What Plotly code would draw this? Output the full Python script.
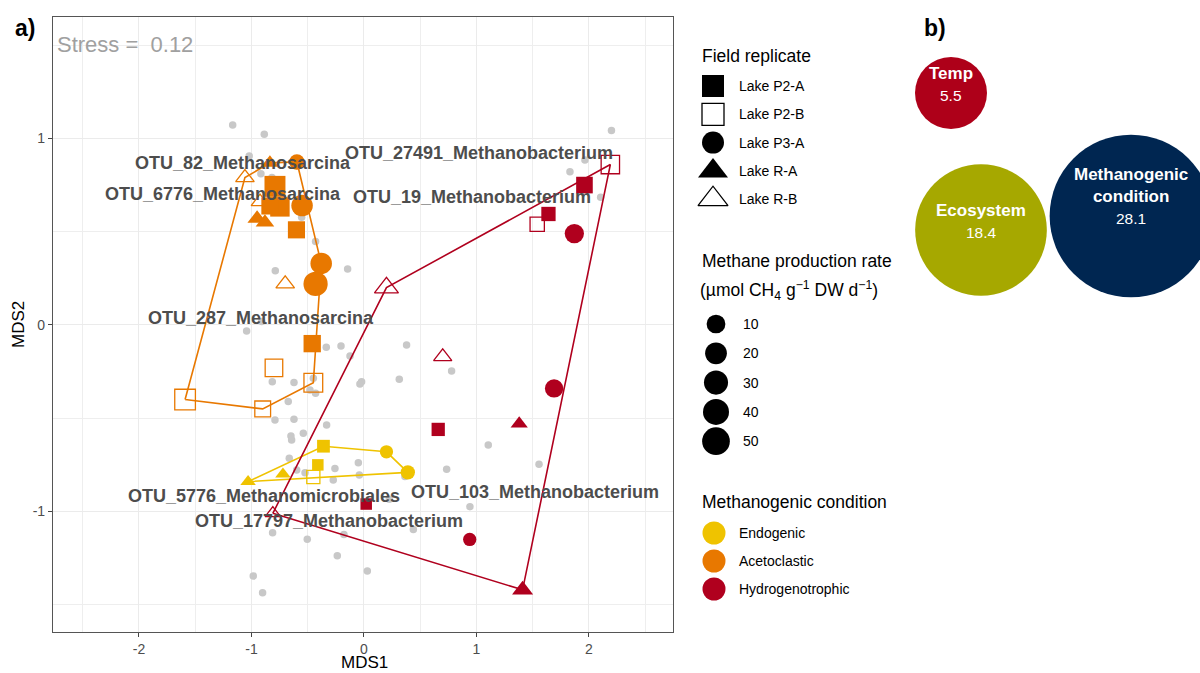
import numpy as np
import plotly.graph_objects as go

# ---------------- DATA ----------------
# background OTU scores (grey dots)
otu_mds1 = [-1.167, -0.886, -1.02, -0.916, -0.818, -0.554, -0.43, -0.788, -0.145, -1.043, -0.909,
            -0.335, -0.204, 2.20, 1.964, 1.831, 2.104, 0.379, -0.124, -0.815, -0.622, -0.021,
            -0.036, 0.314, 0.779, -0.43, -0.48, -0.45, -0.673, -0.791, -0.622, -0.332, -0.539,
            -0.649, -0.643, 1.105, -0.664, -0.598, -0.524, -0.258, -0.05, -0.041, -0.273, 0.735,
            0.364, 0.942, -0.812, -0.504, -0.178, 0.439, -0.237, 0.03, -0.984, -0.901, 1.556, 0.225]
otu_mds2 = [1.072, 1.022, 0.906, 0.81, 0.79, 0.577, 0.447, 0.29, 0.30, -0.032, 0.018,
            -0.12, -0.113, 1.042, 0.885, 0.822, 0.685, -0.107, -0.166, -0.304, -0.309, -0.304,
            -0.316, -0.291, -0.247, -0.366, -0.349, -0.286, -0.41, -0.509, -0.506, -0.536, -0.581,
            -0.595, -0.617, -0.643, -0.715, -0.777, -0.792, -0.769, -0.738, -0.804, -0.831, -0.774,
            -0.813, -0.974, -1.114, -1.149, -1.123, -1.096, -1.237, -1.319, -1.346, -1.435, -0.747, -0.935]

# samples: Endogenic
endo_mds1 = [-0.36, 0.20, 0.39, -0.41, -0.72, -1.03, -0.45]
endo_mds2 = [-0.65, -0.68, -0.79, -0.75, -0.80, -0.84, -0.815]
endo_rep = ["Lake P2-A", "Lake P3-A", "Lake P3-A", "Lake P2-A", "Lake R-A", "Lake R-A", "Lake P2-B"]
endo_rate = [0.3, 0.6, 1.5, 0.0, 0.0, 0.0, 0.5]

# samples: Acetoclastic
acet_mds1 = [-0.836, -0.596, -1.058, -0.924, -0.791, -0.747, -0.836, -0.55, -0.95, -0.88,
             -0.60, -0.38, -0.43, -0.70, -0.46, -0.80, -0.45, -1.59, -0.90]
acet_mds2 = [0.869, 0.874, 0.79, 0.66, 0.743, 0.633, 0.638, 0.64, 0.57, 0.55,
             0.51, 0.33, 0.22, 0.22, -0.10, -0.23, -0.31, -0.40, -0.45]
acet_rep = ["Lake R-A", "Lake P3-A", "Lake R-B", "Lake R-B", "Lake P2-A", "Lake P2-A", "Lake P2-A",
            "Lake P3-A", "Lake R-A", "Lake R-A", "Lake P2-A", "Lake P3-A", "Lake P3-A", "Lake R-B",
            "Lake P2-A", "Lake P2-B", "Lake P2-B", "Lake P2-B", "Lake P2-B"]
acet_rate = [0.5, 3, 1, 0.5, 17, 12, 6, 19, 1.5, 1, 6, 19, 31, 1, 6.5, 7, 10, 16, 3.5]

# samples: Hydrogenotrophic
hydro_mds1 = [2.19, 1.96, 1.64, 1.54, 1.87, 0.20, 0.70, 1.69, 0.66, 1.38, 0.02, -0.81, 0.94, 1.41]
hydro_mds2 = [0.86, 0.75, 0.595, 0.54, 0.49, 0.20, -0.17, -0.34, -0.56, -0.53, -0.96, -1.01, -1.15, -1.42]
hydro_rep = ["Lake P2-B", "Lake P2-A", "Lake P2-A", "Lake P2-B", "Lake P3-A", "Lake R-B", "Lake R-B",
             "Lake P3-A", "Lake P2-A", "Lake R-A", "Lake P2-A", "Lake R-B", "Lake P3-A", "Lake R-A"]
hydro_rate = [9, 5, 1.5, 1.5, 11.5, 7.5, 0.8, 9, 0.6, 0.3, 0, 0, 0.6, 3.2]

# OTU labels
otu_labels = ["OTU_82_Methanosarcina", "OTU_6776_Methanosarcina", "OTU_287_Methanosarcina",
              "OTU_27491_Methanobacterium", "OTU_19_Methanobacterium", "OTU_5776_Methanomicrobiales",
              "OTU_17797_Methanobacterium", "OTU_103_Methanobacterium"]
otu_label_x = [-1.076, -1.253, -0.916, 1.022, 0.96, -0.889, -0.311, 1.52]
otu_label_y = [0.869, 0.702, 0.038, 0.922, 0.686, -0.917, -1.051, -0.895]

stress = 0.12

replicates = ["Lake P2-A", "Lake P2-B", "Lake P3-A", "Lake R-A", "Lake R-B"]
conditions = ["Endogenic", "Acetoclastic", "Hydrogenotrophic"]
rate_breaks = [10, 20, 30, 40, 50]

x_ticks = [-2, -1, 0, 1, 2]
y_ticks = [-1, 0, 1]

# panel b: variance explained
drivers = ["Temp", "Ecosystem", "Methanogenic<br>condition"]
explained = [5.5, 18.4, 28.1]

# ---------------- STYLE ----------------
FONT = "Liberation Sans, Arial, Helvetica, sans-serif"
cond_colors = {"Endogenic": "#EFC300", "Acetoclastic": "#E87800", "Hydrogenotrophic": "#B0001E"}
driver_colors = ["#AE0019", "#A6A800", "#002651"]
symbols = {"Lake P2-A": "square", "Lake P2-B": "square-open", "Lake P3-A": "circle",
           "Lake R-A": "triangle-up", "Lake R-B": "triangle-up-open"}
bubble_cx = [951, 981, 1131]
bubble_cy = [93, 230, 216]


def rate_px(r):
    return 11.5 + 17.0 * np.sqrt(np.asarray(r, dtype=float) / 55.0)


def sym_size(rep, d):
    return d * 1.17 if rep.startswith("Lake R") else d


def convex_hull(xs, ys):
    pts = sorted(set(zip(xs, ys)))

    def cross(o, a, b):
        return (a[0] - o[0]) * (b[1] - o[1]) - (a[1] - o[1]) * (b[0] - o[0])
    lower, upper = [], []
    for p in pts:
        while len(lower) >= 2 and cross(lower[-2], lower[-1], p) <= 0:
            lower.pop()
        lower.append(p)
    for p in reversed(pts):
        while len(upper) >= 2 and cross(upper[-2], upper[-1], p) <= 0:
            upper.pop()
        upper.append(p)
    h = lower[:-1] + upper[:-1]
    h.append(h[0])
    return [p[0] for p in h], [p[1] for p in h]


groups = [
    ("Endogenic", endo_mds1, endo_mds2, endo_rep, endo_rate),
    ("Acetoclastic", acet_mds1, acet_mds2, acet_rep, acet_rate),
    ("Hydrogenotrophic", hydro_mds1, hydro_mds2, hydro_rep, hydro_rate),
]

fig = go.Figure()

# grey OTU dots
fig.add_trace(go.Scatter(x=otu_mds1, y=otu_mds2, mode="markers",
                         marker=dict(color="#C8C8C8", size=7.5, line=dict(width=0)),
                         hoverinfo="skip", showlegend=False))

# hulls
for cond, xs, ys, reps, rates in groups:
    hx, hy = convex_hull(xs, ys)
    fig.add_trace(go.Scatter(x=hx, y=hy, mode="lines",
                             line=dict(color=cond_colors[cond], width=1.6),
                             hoverinfo="skip", showlegend=False))

# sample points
for cond, xs, ys, reps, rates in groups:
    d = rate_px(rates)
    fig.add_trace(go.Scatter(
        x=xs, y=ys, mode="markers", showlegend=False, hoverinfo="skip",
        marker=dict(color=cond_colors[cond],
                    symbol=[symbols[r] for r in reps],
                    size=[sym_size(r, s) for r, s in zip(reps, d)],
                    opacity=1,
                    line=dict(color=cond_colors[cond],
                              width=[1.3 if symbols[r].endswith("open") else 0 for r in reps]))))

# ---------- overlay axis for legends and panel b (pixel coords) ----------
X0 = 680
lx_key, lx_lab = 713, 737


def add_key(x, y, symbol, size, color, lw=0):
    fig.add_trace(go.Scatter(x=[x], y=[y], xaxis="x2", yaxis="y2", mode="markers",
                             cliponaxis=False, showlegend=False, hoverinfo="skip",
                             marker=dict(symbol=symbol, size=size, color=color,
                                         line=dict(color=color, width=lw))))


annotations = []


def add_text(x, y, text, size, color="#000000", xanchor="left", ref="2", bold=False, yanchor="middle"):
    annotations.append(dict(x=x, y=y, xref="x" + ref, yref="y" + ref, text=("<b>%s</b>" % text) if bold else text,
                            showarrow=False, xanchor=xanchor, yanchor=yanchor,
                            font=dict(family=FONT, size=size, color=color)))


# Field replicate legend
add_text(700, 56, "Field replicate", 17.5)
for i, rep in enumerate(replicates):
    y = 86 + i * 28.3
    sz = 26 if rep.startswith("Lake R") else 22
    add_key(lx_key, y, symbols[rep], sz, "#000000", 1.3 if symbols[rep].endswith("open") else 0)
    add_text(lx_lab, y, rep, 14)

# Methane production rate legend
add_text(700, 261, "Methane production rate", 17.5)
add_text(698, 290, "(µmol CH<sub>4</sub> g<sup>−1</sup> DW d<sup>−1</sup>)", 17.5)
for i, b in enumerate(rate_breaks):
    y = 324 + i * 29.3
    add_key(716, y, "circle", float(rate_px(b)), "#000000")
    add_text(741, y, str(b), 14)

# Methanogenic condition legend
add_text(700, 502, "Methanogenic condition", 17.5)
for i, c in enumerate(conditions):
    y = 533 + i * 28
    add_key(714, y, "circle", 23, cond_colors[c])
    add_text(lx_lab, y, c, 14)

# panel b bubbles (area proportional to value)
k = 15.35
for name, v, col, cx, cy in zip(drivers, explained, driver_colors, bubble_cx, bubble_cy):
    r = k * np.sqrt(v)
    add_key(cx, cy, "circle", 2 * r, col)
    add_text(cx, cy + 2, str(v), 15.5, "#FFFFFF", xanchor="center")
    add_text(cx, cy - 8, name, 17, "#FFFFFF", xanchor="center", bold=True, yanchor="bottom")

# OTU labels in data coordinates
for t, x, y in zip(otu_labels, otu_label_x, otu_label_y):
    add_text(x, y, t, 18, "#4D4D4D", xanchor="center", ref="", bold=True)

# paper-level texts
for txt, px, py, size, col, bold, ang in [
    ("a)", 13, 28, 23, "#000000", True, 0),
    ("b)", 922, 28, 23, "#000000", True, 0),
    ("Stress =  %.2f" % stress, 55, 45, 22, "#A0A0A0", False, 0),
]:
    annotations.append(dict(x=px / 1200, y=1 - py / 673, xref="paper", yref="paper",
                            text=("<b>%s</b>" % txt) if bold else txt, showarrow=False,
                            xanchor="left", yanchor="middle", textangle=ang,
                            font=dict(family=FONT, size=size, color=col)))
annotations.append(dict(x=364 / 1200, y=1 - 662 / 673, xref="paper", yref="paper", text="MDS1",
                        showarrow=False, xanchor="center", yanchor="middle",
                        font=dict(family=FONT, size=17, color="#000000")))
annotations.append(dict(x=18 / 1200, y=1 - 325 / 673, xref="paper", yref="paper", text="MDS2",
                        showarrow=False, xanchor="center", yanchor="middle", textangle=-90,
                        font=dict(family=FONT, size=17, color="#000000")))

axis_common = dict(showline=True, mirror=True, linecolor="#555555", linewidth=1.1,
                   ticks="outside", ticklen=4, tickcolor="#444444", tickwidth=1,
                   showgrid=True, gridcolor="#EBEBEB", gridwidth=1.1, zeroline=False,
                   tickfont=dict(family=FONT, size=14, color="#4D4D4D"), fixedrange=True)

fig.update_layout(
    width=1200, height=673, autosize=False,
    margin=dict(l=0, r=0, t=0, b=0),
    paper_bgcolor="white", plot_bgcolor="white",
    showlegend=False,
    xaxis=dict(domain=[53 / 1200, 673 / 1200], range=[-2.764, 2.747],
               tickmode="array", tickvals=x_ticks, ticktext=[str(v) for v in x_ticks],
               minor=dict(tickmode="array", tickvals=[-2.5, -1.5, -0.5, 0.5, 1.5, 2.5],
                          showgrid=True, gridcolor="#EEEEEE", gridwidth=0.8, ticks=""),
               **axis_common),
    yaxis=dict(domain=[1 - 632 / 673, 1 - 17 / 673], range=[-1.646, 1.651],
               tickmode="array", tickvals=y_ticks, ticktext=[str(v) for v in y_ticks],
               minor=dict(tickmode="array", tickvals=[-1.5, -0.5, 0.5, 1.5],
                          showgrid=True, gridcolor="#EEEEEE", gridwidth=0.8, ticks=""),
               **axis_common),
    xaxis2=dict(domain=[X0 / 1200, 1], range=[X0, 1200], visible=False, fixedrange=True),
    yaxis2=dict(domain=[0, 1], range=[673, 0], visible=False, fixedrange=True, anchor="x2"),
    annotations=annotations,
)
fig.update_layout(xaxis2_anchor="y2")

fig.write_html("out.html", config={"displayModeBar": False},
               post_script="document.body.style.margin='0';document.body.style.overflow='hidden';")
